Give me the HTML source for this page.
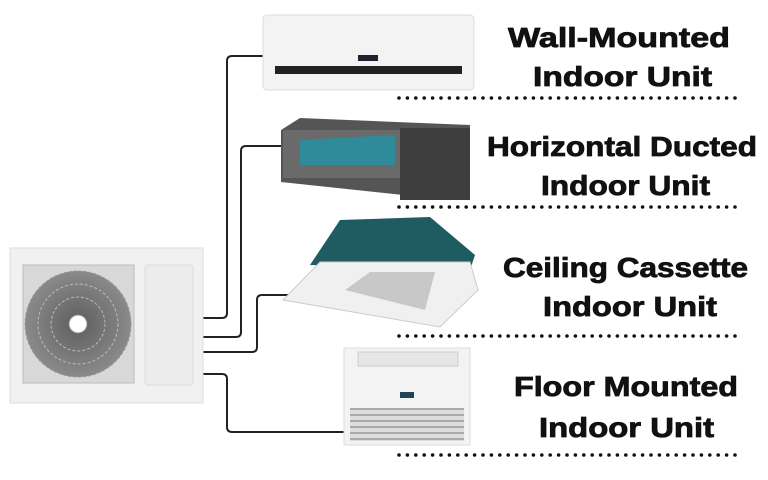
<!DOCTYPE html>
<html><head><style>
body{margin:0;background:#fff;width:768px;height:480px;overflow:hidden}
svg{display:block}
text{font-family:"Liberation Sans",sans-serif;font-weight:bold;font-size:28px;fill:#111;stroke:#111;stroke-width:0.8}
</style></head><body>
<svg width="768" height="480" viewBox="0 0 768 480">
<defs>
<radialGradient id="fan" cx="50%" cy="50%" r="50%">
<stop offset="0" stop-color="#fff"/><stop offset="0.15" stop-color="#fff"/><stop offset="0.18" stop-color="#666"/><stop offset="1" stop-color="#8a8a8a"/>
</radialGradient>
<pattern id="grill" width="6" height="6" patternUnits="userSpaceOnUse"><rect width="6" height="6" fill="#ddd"/><rect width="6" height="2" fill="#aaa"/></pattern>
</defs>
<g fill="none" stroke="#222" stroke-width="2">
<path d="M203 318 H222 Q227 318 227 313 V61 Q227 56 232 56 H263"/>
<path d="M203 337 H236 Q241 337 241 332 V151 Q241 146 246 146 H281"/>
<path d="M203 352 H252 Q257 352 257 347 V300 Q257 295 262 295 H297"/>
<path d="M203 374 H222 Q227 374 227 379 V427 Q227 432 232 432 H344"/>
</g>
<rect x="10" y="248" width="193" height="155" fill="#f1f1f1" stroke="#ddd"/>
<rect x="23" y="265" width="111" height="118" fill="#d8d8d8" stroke="#bbb"/>
<circle cx="78" cy="324" r="53" fill="url(#fan)"/>
<circle cx="78" cy="324" r="53" fill="none" stroke="#999" stroke-width="1" stroke-dasharray="3 2"/>
<circle cx="78" cy="324" r="40" fill="none" stroke="#bbb" stroke-dasharray="3 2"/>
<circle cx="78" cy="324" r="27" fill="none" stroke="#bbb" stroke-dasharray="3 2"/>
<circle cx="78" cy="324" r="8" fill="#fff"/>
<rect x="145" y="265" width="48" height="120" rx="3" fill="#ececec" stroke="#ddd"/>
<rect x="263" y="15" width="211" height="75" rx="4" fill="#f3f3f3" stroke="#ddd"/>
<rect x="275" y="66" width="187" height="8" fill="#222"/>
<rect x="358" y="55" width="20" height="6" fill="#223"/>
<polygon points="281,130 300,118 470,125 470,200 450,200 281,182" fill="#555"/>
<polygon points="283,130 400,130 400,178 283,178" fill="#6a6a6a"/>
<polygon points="300,140 395,135 395,165 300,165" fill="#2f8a9a"/>
<rect x="400" y="128" width="70" height="72" fill="#3e3e3e"/>
<polygon points="310,265 340,220 430,217 475,255 470,270" fill="#1f5c62"/>
<polygon points="283,300 320,262 470,262 478,290 440,327" fill="#f0f0f0" stroke="#ccc"/>
<polygon points="345,290 370,272 435,272 425,310" fill="#c8c8c8"/>
<rect x="344" y="348" width="126" height="97" fill="#f3f3f3" stroke="#ddd"/>
<rect x="358" y="352" width="100" height="14" fill="#e6e6e6" stroke="#ccc"/>
<rect x="400" y="392" width="14" height="6" fill="#245"/>
<rect x="350" y="408" width="114" height="33" fill="url(#grill)"/>
<g lengthAdjust="spacingAndGlyphs">
<text x="508" y="47" textLength="222" lengthAdjust="spacingAndGlyphs">Wall-Mounted</text>
<text x="533" y="86" textLength="179" lengthAdjust="spacingAndGlyphs">Indoor Unit</text>
<text x="487" y="156" textLength="270" lengthAdjust="spacingAndGlyphs">Horizontal Ducted</text>
<text x="541" y="195" textLength="169" lengthAdjust="spacingAndGlyphs">Indoor Unit</text>
<text x="503" y="277" textLength="245" lengthAdjust="spacingAndGlyphs">Ceiling Cassette</text>
<text x="543" y="316" textLength="174" lengthAdjust="spacingAndGlyphs">Indoor Unit</text>
<text x="514" y="396" textLength="224" lengthAdjust="spacingAndGlyphs">Floor Mounted</text>
<text x="539" y="437" textLength="175" lengthAdjust="spacingAndGlyphs">Indoor Unit</text>
</g>
<g stroke="#111" stroke-width="3.6" stroke-linecap="round" stroke-dasharray="0 8.4">
<line x1="399" y1="98" x2="739" y2="98"/>
<line x1="399" y1="207" x2="739" y2="207"/>
<line x1="399" y1="336" x2="739" y2="336"/>
<line x1="399" y1="455" x2="739" y2="455"/>
</g>
</svg>
</body></html>
